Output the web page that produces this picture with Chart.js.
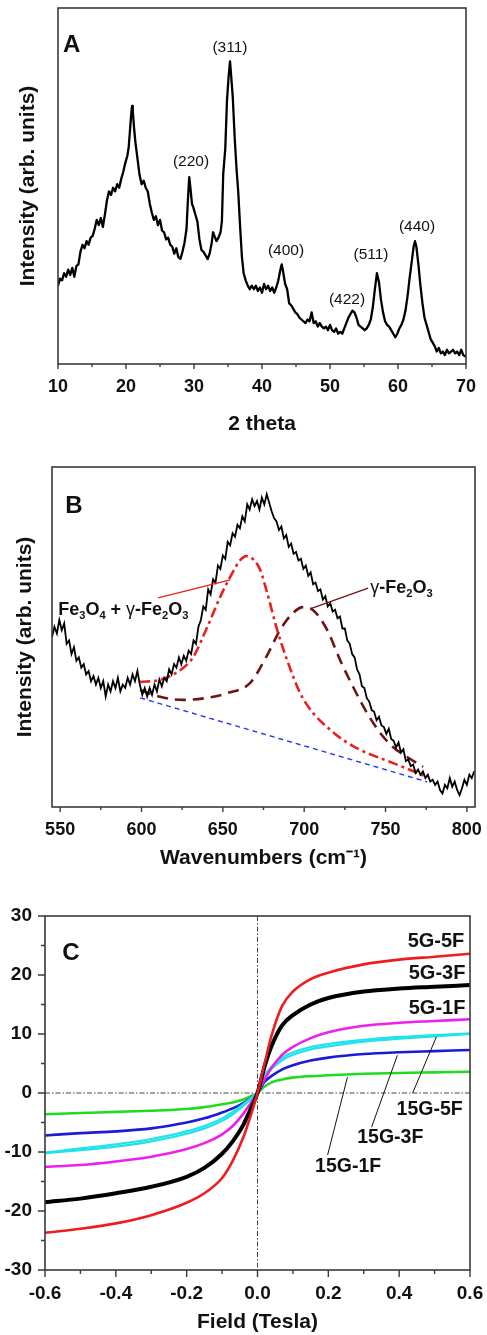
<!DOCTYPE html>
<html lang="en">
<head>
<meta charset="utf-8">
<title>XRD, Raman and magnetization panels</title>
<script src="https://cdn.jsdelivr.net/npm/chart.js"></script>
<style>
  * { margin:0; padding:0; box-sizing:border-box }
  body { background:#fff; width:487px; height:1335px; position:relative; overflow:hidden }
  canvas { position:absolute; left:0 }
  #chartA { top:0 }
  #chartB { top:455px }
  #chartC { top:895px }
</style>
</head>
<body>
<canvas id="chartA" width="487" height="445"></canvas>
<canvas id="chartB" width="487" height="420"></canvas>
<canvas id="chartC" width="487" height="440"></canvas>

<script>
// ===== Panel A: XRD scan [2theta, intensity] =====
const xrdScan = [
  [10.0,22],[10.3,24],[10.6,23.5],[10.9,25.5],[11.2,24.5],[11.5,26.5],[11.8,25],[12.1,27],[12.4,24.5],[12.7,27.5],
  [13.0,28],[13.3,31.5],[13.6,33.5],[13.9,32.5],[14.2,34.5],[14.5,33.5],[14.8,35.5],[15.1,36],[15.4,38],[15.7,40.5],
  [16.0,39],[16.3,41],[16.6,38.5],[16.9,42],[17.2,46],[17.5,48.5],[17.8,47.5],[18.1,49.5],[18.4,48.5],[18.7,50.5],
  [19.0,49.5],[19.3,52],[19.6,54],[19.9,56.5],[20.2,58.5],[20.4,61],[20.6,66],[20.8,71],[20.9,72.5],[21.0,71],
  [21.2,66],[21.4,62],[21.6,59],[21.8,56],[22.0,53],[22.3,50.5],[22.6,51.5],[22.9,49.5],[23.2,48.5],[23.5,45],
  [23.8,42.5],[24.1,40.5],[24.4,41.5],[24.7,39],[25.0,40.5],[25.3,37.5],[25.6,37],[25.9,35],[26.2,35.5],[26.5,33.5],
  [26.8,33],[27.1,31],[27.4,32.5],[27.7,30],[28.0,29.5],[28.3,31.5],[28.6,34],[28.9,38],[29.1,46],[29.3,52.5],
  [29.5,49],[29.7,45],[29.9,44],[30.2,42],[30.5,40],[30.8,35],[31.1,32],[31.4,31.5],[31.7,30.5],[32.0,29.5],
  [32.3,31],[32.6,34],[32.8,37],[33.0,36],[33.3,34.5],[33.6,35.5],[33.9,37],[34.1,40],[34.3,53.5],[34.6,60.5],
  [34.85,74],[35.1,81],[35.3,85],[35.5,80],[35.7,75],[36.0,63],[36.25,55],[36.5,48.5],[36.8,38],[37.05,30],
  [37.3,25.5],[37.6,23.5],[37.9,22],[38.2,21],[38.5,22],[38.8,21],[39.1,22],[39.4,20.5],[39.7,21.5],[40.0,20],
  [40.3,22.5],[40.6,21],[40.9,22],[41.2,20.5],[41.5,21.5],[41.8,20],[42.1,21.5],[42.4,23.5],[42.7,26.5],[42.9,28],
  [43.1,26],[43.4,22.5],[43.7,21],[44.0,17],[44.3,16.5],[44.6,15.5],[44.9,14.5],[45.2,14],[45.5,13],[45.8,12.5],
  [46.1,12],[46.4,11.5],[46.7,12.5],[47.0,12],[47.3,14.5],[47.6,11.5],[47.9,12],[48.2,10.5],[48.5,11.5],[48.8,10.5],
  [49.1,10],[49.4,10.5],[49.7,9.5],[50.0,11],[50.3,9.5],[50.6,9],[50.9,10],[51.2,8.5],[51.5,9],[51.8,8.5],
  [52.1,10],[52.4,11.5],[52.7,13],[53.0,14],[53.3,15],[53.6,14.5],[53.9,13],[54.2,11],[54.5,10.5],[54.8,10],
  [55.1,9.5],[55.4,10],[55.7,11],[56.0,12.5],[56.3,16],[56.6,21],[56.9,25.5],[57.2,23],[57.5,18],[57.8,14.5],
  [58.1,12],[58.4,11],[58.7,10.5],[59.0,9.5],[59.3,8.5],[59.6,7.5],[59.9,8.5],[60.2,10],[60.5,11],[60.8,12.5],
  [61.1,15],[61.4,19],[61.7,24],[62.0,28.5],[62.3,33],[62.5,34.5],[62.7,33],[63.0,28],[63.3,22],[63.6,17],
  [63.9,13],[64.2,11],[64.5,9],[64.8,7],[65.1,6],[65.4,5],[65.7,3.5],[66.0,4.5],[66.3,3],[66.6,3.5],
  [66.9,2.5],[67.2,4],[67.5,3],[67.8,3.5],[68.1,4],[68.4,3],[68.7,3.5],[69.0,2.5],[69.3,4],[69.6,2.5],[70.0,2]
];
const xrdTicks = [10, 20, 30, 40, 50, 60, 70];
const xrdPeakLabels = ['(220)', '(311)', '(400)', '(422)', '(511)', '(440)'];
const xrdPeakX = [29.56, 35.29, 43.53, 52.5, 56.03, 62.79];
const xrdPeakY = [56.7, 88.8, 31.7, 18.0, 30.6, 38.5];

// ===== Panel B: Raman spectrum [wavenumber, intensity] =====
const ramanScan = [
  [545,50],[546.5,53],[548,51],[549.5,55],[551,52],[552.5,54],[554,48],[555.5,49],[557,45],[558.5,47],
  [560,43],[561.5,44],[563,41],[564.5,42],[566,39],[567.5,40],[569,37],[570.5,38.5],[572,36],[573.5,38],
  [575,35],[576.5,37],[578,32.5],[579.5,36],[581,34],[582.5,37],[584,35],[585.5,38],[587,34],[588.5,36],
  [590,35],[591.5,38],[593,36],[594.5,39],[596,37],[597.5,40],[599,36],[600.5,33],[602,35],[603.5,32.5],
  [605,35],[606.5,33],[608,36],[609.5,34],[611,37.5],[612.5,35.5],[614,38],[615.5,37],[617,40.5],[618.5,39],
  [620,42],[621.5,41],[623,44],[624.5,42],[626,44.5],[627.5,43],[629,46],[630.5,45],[632,49],[633.5,48],
  [635,53],[636.5,55],[638,59],[639.5,58],[641,64],[642.5,62.5],[644,67],[645.5,66],[647,71],[648.5,70],
  [650,74],[651.5,73],[653,78],[654.5,77],[656,80.5],[657.5,79.5],[659,83],[660.5,82],[662,85.5],[663.5,84],
  [665,89],[666.5,87.5],[668,90.5],[669.5,88.5],[671,90],[672.5,87.5],[674,91],[675.5,89],[677,92],[678.5,89.5],
  [680,87],[681.5,85],[683,84],[684.5,81.5],[686,82.5],[687.5,79],[689,80],[690.5,76.5],[692,77.5],[693.5,74.5],
  [695,75],[696.5,72.5],[698,73],[699.5,70],[701,71],[702.5,68],[704,69],[705.5,65.5],[707,66],[708.5,63.5],
  [710,64],[711.5,61],[713,62],[714.5,59],[716,60],[717.5,57.5],[719,58],[720.5,55.5],[722,56],[723.5,52.5],
  [725,52.5],[726.5,49],[728,48],[729.5,45],[731,44],[732.5,40.5],[734,39],[735.5,35.5],[737,35],[738.5,32],
  [740,31],[741.5,28.5],[743,28],[744.5,25.5],[746,26.5],[747.5,24],[749,23.5],[750.5,21.5],[752,23],[753.5,20],
  [755,19.5],[756.5,17.5],[758,19],[759.5,16],[761,17],[762.5,13.5],[764,14],[765.5,12],[767,12.5],[768.5,10],
  [770,11],[771.5,9.5],[773,10.5],[774.5,8.5],[776,9.5],[777.5,7.5],[779,8],[780.5,6.5],[782,7.5],[783.5,5],
  [785,4],[786.5,6.5],[788,5.5],[789.5,8.5],[791,6],[792.5,7.5],[794,5],[795.5,3.5],[797,5.5],[798.5,8],
  [800,6.5],[801.5,9.5],[803,8.5],[804.5,10.5]
];
// fitted components
const fitMixed = [
  [599.2,36.8],[611.5,37.4],[625.6,40.9],[631.8,44.1],[640.4,52.9],[648.4,61.8],[655.8,68.8],[660.7,72.6],
  [664.3,73.8],[669.2,72.6],[673.0,69.7],[677.3,62.9],[683.4,52.1],[689.5,43.2],[697.5,33.5],[705.5,27.6],
  [714.1,23.5],[724.0,19.7],[734.4,16.8],[744.9,14.7],[754.7,12.9],[765.2,10.9],[775.6,8.8]
];
const fitGamma = [
  [599.2,34.4],[611.5,32.4],[625.6,31.5],[640.4,32.1],[652.7,33.5],[666.8,36.5],[677.3,44.7],[685.2,52.1],
  [693.2,57.1],[699.4,58.8],[705.5,57.9],[714.1,52.1],[722.1,43.2],[730.1,35.3],[738.7,27.6],[746.7,21.8],
  [754.7,17.6],[763.3,14.7],[773.1,11.8]
];
const ramanBaseline = [[599.2,32.1],[775.6,7.4]];
const ramanTicks = [550, 600, 650, 700, 750, 800];

// ===== Panel C: magnetization M(H) =====
const fieldT   = [-0.6,-0.5,-0.4,-0.3,-0.2,-0.15,-0.1,-0.07,-0.04,-0.02,0,0.02,0.04,0.07,0.1,0.15,0.2,0.3,0.4,0.5,0.6];
const m5G5F    = [-23.7,-23.0,-22.1,-20.7,-18.6,-17.0,-14.4,-11.5,-7.5,-4.0,0,5.0,9.8,14.8,17.2,19.3,20.4,21.8,22.6,23.1,23.6];
const m5G3F    = [-18.5,-17.9,-17.0,-15.9,-14.2,-12.7,-10.3,-8.2,-5.4,-2.8,0,4.5,8.0,11.5,13.2,15.0,16.1,17.2,17.7,18.0,18.3];
const m5G1F    = [-12.5,-12.2,-11.6,-10.8,-9.5,-8.5,-7.0,-5.6,-3.5,-1.8,0,2.3,4.3,6.5,7.8,9.3,10.3,11.4,11.9,12.2,12.5];
const m15G5Fup = [-10.2,-9.7,-9.1,-8.2,-6.9,-6.0,-4.7,-3.6,-2.2,-1.1,0,3.0,4.5,6.0,6.9,7.8,8.3,9.0,9.5,9.8,10.1];
const m15G5Fdn = [-10.1,-9.4,-8.7,-7.8,-6.5,-5.6,-4.3,-3.2,-1.9,-0.9,0.2,2.6,4.1,5.6,6.5,7.4,7.9,8.7,9.2,9.6,10.0];
const m15G3F   = [-7.2,-6.8,-6.5,-6.0,-5.0,-4.3,-3.3,-2.6,-1.7,-0.9,0,1.9,2.9,4.0,4.7,5.5,6.0,6.6,6.9,7.1,7.3];
const m15G1F   = [-3.6,-3.4,-3.2,-3.0,-2.7,-2.4,-1.9,-1.6,-1.1,-0.6,0,1.1,1.8,2.3,2.6,2.85,3.0,3.25,3.4,3.5,3.6];
const fieldTicks = [-0.6, -0.4, -0.2, 0, 0.2, 0.4, 0.6];
const fieldTickLabels = ['-0.6', '-0.4', '-0.2', '0.0', '0.2', '0.4', '0.6'];
const momentTicks = [-30, -20, -10, 0, 10, 20, 30];
const sampleNames = ['5G-5F', '5G-3F', '5G-1F', '15G-5F', '15G-3F', '15G-1F'];
const sampleLabelX = [0.584, 0.587, 0.587, 0.486, 0.375, 0.256];
const sampleLabelY = [25.6, 20.3, 14.4, -2.9, -7.5, -12.4];
// leader lines for the 15G labels: [x0, y0, x1, y1]
const sampleLeaders = [[0.438, 0.0, 0.505, 9.5], [0.322, -5.8, 0.395, 6.4], [0.198, -10.5, 0.254, 2.7]];

// ===== helpers =====
const FONT = '"Liberation Sans", Arial, Helvetica, sans-serif';
const INK = '#111';
const pts = pairs => pairs.map(([x, y]) => ({x, y}));
const zip = (xs, ys) => xs.map((x, i) => ({x, y: ys[i]}));

// frame round the plot area, outward major/minor tick marks, optional dash-dot zero lines
const boxAndTicks = {
  id: 'boxAndTicks',
  beforeDatasetsDraw(chart, args, opts) {
    if (!opts.zeroLines) return;
    const {ctx, chartArea: a, scales} = chart;
    const x0 = scales.x.getPixelForValue(0), y0 = scales.y.getPixelForValue(0);
    ctx.save();
    ctx.strokeStyle = '#444';
    ctx.lineWidth = 1;
    ctx.setLineDash([5, 2, 1.5, 2]);
    ctx.beginPath();
    ctx.moveTo(x0, a.top); ctx.lineTo(x0, a.bottom);
    ctx.moveTo(a.left, y0); ctx.lineTo(a.right, y0);
    ctx.stroke();
    ctx.restore();
  },
  afterDraw(chart, args, opts) {
    const {ctx, chartArea: a, scales} = chart;
    ctx.save();
    ctx.strokeStyle = '#3a3a3a';
    ctx.lineWidth = 1.6;
    ctx.strokeRect(a.left, a.top, a.right - a.left, a.bottom - a.top);
    ctx.lineWidth = 1.4;
    ['x', 'y'].forEach(k => {
      const t = opts[k];
      if (!t) return;
      const n = Math.round((t.to - t.from) / t.minor);
      const ratio = Math.round(t.major / t.minor);
      ctx.beginPath();
      for (let i = 0; i <= n; i++) {
        const p = scales[k].getPixelForValue(t.from + i * t.minor);
        const len = i % ratio === 0 ? t.long : t.short;
        if (k === 'x') { ctx.moveTo(p, a.bottom); ctx.lineTo(p, a.bottom + len); }
        else { ctx.moveTo(a.left, p); ctx.lineTo(a.left - len, p); }
      }
      ctx.stroke();
    });
    ctx.restore();
  }
};

// text labels (with subscripts) and leader lines placed in data coordinates
const annotate = {
  id: 'annotate',
  afterDatasetsDraw(chart, args, opts) {
    const {ctx, scales: {x, y}} = chart;
    ctx.save();
    (opts.lines || []).forEach(l => {
      ctx.strokeStyle = l.color;
      ctx.lineWidth = l.width;
      ctx.beginPath();
      ctx.moveTo(x.getPixelForValue(l.pts[0]), y.getPixelForValue(l.pts[1]));
      ctx.lineTo(x.getPixelForValue(l.pts[2]), y.getPixelForValue(l.pts[3]));
      ctx.stroke();
    });
    ctx.textBaseline = 'middle';
    (opts.texts || []).forEach(t => {
      const parts = (t.parts || [[t.text]]).map(([s, kind]) => {
        const sub = kind === 'sub';
        const size = sub ? t.size * 0.62 : t.size;
        const weight = kind === 'plain' ? 'normal' : t.weight;
        ctx.font = `${weight} ${size}px ${FONT}`;
        return {s, font: ctx.font, w: ctx.measureText(s).width, dy: sub ? t.size * 0.32 : 0};
      });
      const total = parts.reduce((acc, p) => acc + p.w, 0);
      let px = x.getPixelForValue(t.at[0]);
      if (t.align === 'center') px -= total / 2;
      else if (t.align === 'right') px -= total;
      const py = y.getPixelForValue(t.at[1]);
      ctx.fillStyle = t.color || INK;
      parts.forEach(p => { ctx.font = p.font; ctx.fillText(p.s, px, py + p.dy); px += p.w; });
    });
    ctx.restore();
  }
};

// the edge tick labels may hang past the plot frame, as in the original
function xAxis(min, max, ticks, labels, height, title, titlePad, tickSize) {
  return {
    type: 'linear', min, max,
    afterFit: s => { s.height = height; s.paddingLeft = 0; s.paddingRight = 0; },
    afterBuildTicks: s => { s.ticks = ticks.map(v => ({value: v})); },
    grid: {display: false, drawTicks: false}, border: {display: false},
    ticks: {padding: 12, color: INK, font: {family: FONT, weight: 'bold', size: tickSize},
            callback: (v, i) => labels[i]},
    title: {display: true, text: title, color: INK, font: {family: FONT, weight: 'bold', size: 21},
            padding: {top: 0, bottom: titlePad}}
  };
}

function intensityAxis(width, titlePad) {
  return {
    type: 'linear', min: 0, max: 100,
    afterFit: s => { s.width = width; },
    grid: {display: false, drawTicks: false}, border: {display: false},
    ticks: {display: false},
    title: {display: true, text: 'Intensity (arb. units)', color: INK,
            font: {family: FONT, weight: 'bold', size: 21}, padding: {top: titlePad, bottom: 0}}
  };
}

const common = {
  responsive: false, animation: false, devicePixelRatio: 1,
  elements: {point: {radius: 0}, line: {fill: false}},
};

// ===== Chart A =====
new Chart(document.getElementById('chartA'), {
  type: 'line',
  data: {datasets: [{data: pts(xrdScan), borderColor: '#000', borderWidth: 2.3, tension: 0, borderJoinStyle: 'round'}]},
  options: {
    ...common,
    layout: {padding: {top: 8, right: 21, left: 0, bottom: 0}},
    plugins: {
      legend: {display: false}, tooltip: {enabled: false},
      boxAndTicks: {x: {from: 10, to: 70, minor: 5, major: 10, long: 5, short: 3}},
      annotate: {
        texts: [{text: 'A', at: [10.74, 89.6], size: 24, weight: 'bold', align: 'left'}]
          .concat(xrdPeakLabels.map((s, i) => ({text: s, at: [xrdPeakX[i], xrdPeakY[i]], size: 15.5, weight: 'normal', align: 'center'})))
      }
    },
    scales: {
      x: xAxis(10, 70, xrdTicks, xrdTicks.map(String), 81, '2 theta', 8, 18),
      y: intensityAxis(58, 16)
    }
  },
  plugins: [boxAndTicks, annotate]
});

// ===== Chart B =====
new Chart(document.getElementById('chartB'), {
  type: 'line',
  data: {datasets: [
    {data: pts(ramanScan), borderColor: '#000', borderWidth: 1.8, tension: 0},
    {data: pts(fitMixed), borderColor: '#e8201e', borderWidth: 2.6, borderDash: [10, 4, 3, 4], cubicInterpolationMode: 'monotone'},
    {data: pts(fitGamma), borderColor: '#6e1414', borderWidth: 2.6, borderDash: [11, 7], cubicInterpolationMode: 'monotone'},
    {data: pts(ramanBaseline), borderColor: '#2a35ee', borderWidth: 1.4, borderDash: [5, 4]}
  ]},
  options: {
    ...common,
    layout: {padding: {top: 12, right: 12, left: 0, bottom: 0}},
    plugins: {
      legend: {display: false}, tooltip: {enabled: false},
      boxAndTicks: {x: {from: 550, to: 800, minor: 25, major: 50, long: 5, short: 3}},
      annotate: {
        lines: [
          {pts: [610.2, 61.5, 654.5, 66.8], color: '#e8201e', width: 1.3},
          {pts: [739.3, 64.4, 704.9, 58.5], color: '#6e1414', width: 1.3}
        ],
        texts: [
          {text: 'B', at: [553.1, 88.5], size: 24, weight: 'bold', align: 'left'},
          {parts: [['Fe'], ['3', 'sub'], ['O'], ['4', 'sub'], [' + '], ['\u03b3', 'plain'], ['-Fe'], ['2', 'sub'], ['O'], ['3', 'sub']],
           at: [548.8, 57.9], size: 18, weight: 'bold', align: 'left'},
          {parts: [['\u03b3', 'plain'], ['-Fe'], ['2', 'sub'], ['O'], ['3', 'sub']],
           at: [740.6, 64.4], size: 18, weight: 'bold', align: 'left'}
        ]
      }
    },
    scales: {
      x: xAxis(545, 805, ramanTicks, ramanTicks.map(String), 68, 'Wavenumbers (cm\u207b\u00b9)', 4, 18),
      y: intensityAxis(52, 13)
    }
  },
  plugins: [boxAndTicks, annotate]
});

// ===== Chart C =====
const curveStyle = {tension: 0, cubicInterpolationMode: 'monotone'};
new Chart(document.getElementById('chartC'), {
  type: 'line',
  data: {datasets: [
    {data: zip(fieldT, m5G5F), borderColor: '#ee1c1c', borderWidth: 2.6, ...curveStyle},
    {data: zip(fieldT, m5G3F), borderColor: '#000', borderWidth: 4, ...curveStyle},
    {data: zip(fieldT, m5G1F), borderColor: '#ee1fee', borderWidth: 2.6, ...curveStyle},
    {data: zip(fieldT, m15G5Fup), borderColor: '#1fe2ea', borderWidth: 2.2, ...curveStyle},
    {data: zip(fieldT, m15G5Fdn), borderColor: '#1fe2ea', borderWidth: 2.2, ...curveStyle},
    {data: zip(fieldT, m15G3F), borderColor: '#1a1ad8', borderWidth: 2.6, ...curveStyle},
    {data: zip(fieldT, m15G1F), borderColor: '#1fdc1f', borderWidth: 2.6, ...curveStyle}
  ]},
  options: {
    ...common,
    layout: {padding: {top: 21, right: 17, left: 0, bottom: 0}},
    plugins: {
      legend: {display: false}, tooltip: {enabled: false},
      boxAndTicks: {
        zeroLines: true,
        x: {from: -0.6, to: 0.6, minor: 0.1, major: 0.2, long: 7, short: 4},
        y: {from: -30, to: 30, minor: 5, major: 10, long: 7, short: 4}
      },
      annotate: {
        lines: sampleLeaders.map(p => ({pts: p, color: '#111', width: 1})),
        texts: [{text: 'C', at: [-0.551, 23.6], size: 24, weight: 'bold', align: 'left'}]
          .concat(sampleNames.map((s, i) => ({text: s, at: [sampleLabelX[i], sampleLabelY[i]], size: i < 3 ? 20 : 19.5,
                                               weight: 'bold', align: i < 3 ? 'right' : 'center'})))
      }
    },
    scales: {
      x: xAxis(-0.6, 0.6, fieldTicks, fieldTickLabels, 65, 'Field (Tesla)', 0, 19),
      y: {
        type: 'linear', min: -30, max: 30,
        afterFit: s => { s.width = 45; s.paddingTop = 0; s.paddingBottom = 0; },
        afterBuildTicks: s => { s.ticks = momentTicks.map(v => ({value: v})); },
        grid: {display: false, drawTicks: false}, border: {display: false},
        ticks: {padding: 13, color: INK, font: {family: FONT, weight: 'bold', size: 19}, callback: v => String(v)}
      }
    }
  },
  plugins: [boxAndTicks, annotate]
});
</script>
</body>
</html>
